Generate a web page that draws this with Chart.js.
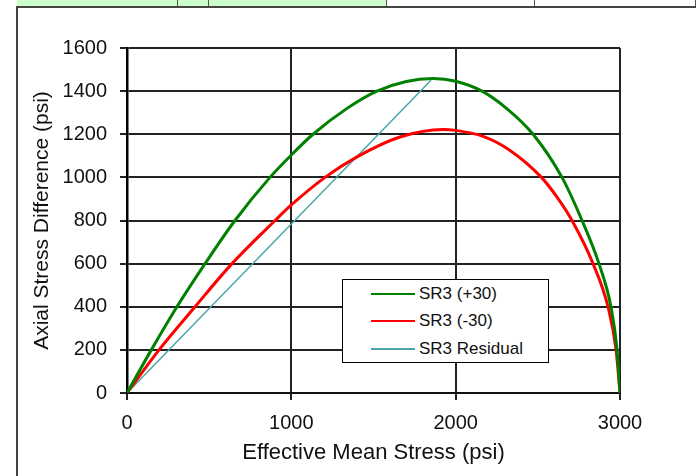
<!DOCTYPE html>
<html>
<head>
<meta charset="utf-8">
<script src="https://cdn.jsdelivr.net/npm/chart.js@4.4.1/dist/chart.umd.min.js"></script>
<style>
    body { margin: 0; background: #fff; }
    #wrap { position: relative; width: 696px; height: 476px; overflow: hidden; font-family: "Liberation Sans", Arial, sans-serif; }
    #strip { position: absolute; left: 0; top: 0; width: 696px; height: 6px; }
    #strip div { position: absolute; top: 0; height: 6px; border-right: 1px solid #555; box-sizing: border-box; }
    .frame-top { position: absolute; left: 16px; top: 6px; width: 680px; height: 2px; background: #444; }
    .frame-left { position: absolute; left: 16px; top: 6px; width: 2px; height: 470px; background: #444; }
    #chart { position: absolute; left: 0; top: 0; }
    #legend { position: absolute; left: 342px; top: 279px; width: 207px; height: 84px; box-sizing: border-box;
              border: 1px solid #000; background: #fff; }
    .leg-row { position: absolute; left: 28px; height: 20px; font-size: 17px; color: #111; line-height: 20px; white-space: nowrap; }
    .leg-row span.swatch { position: absolute; left: 0; top: 9px; width: 44px; height: 2px; }
    .leg-row span.txt { position: absolute; left: 48px; top: 0; }
</style>
</head>
<body>
<div id="wrap">
    <div id="strip"></div>
    <canvas id="chart" width="696" height="476"></canvas>
    <div class="frame-top"></div>
    <div class="frame-left"></div>
    <div id="legend"></div>
</div>
<script>
// SR3 (+30)
const plus30Stress = [0, 148, 304, 475, 657, 870, 1000, 1132, 1339, 1521, 1700, 1862, 2000, 2160, 2313, 2471, 2647, 2769, 2872, 2945, 2982, 3000];
const plus30Diff   = [0, 200, 400, 600, 800, 1000, 1104, 1200, 1320, 1400, 1445, 1458, 1446, 1400, 1318, 1200, 1000, 800, 600, 400, 200, 0];

// SR3 (-30)
const minus30Stress = [0, 195, 414, 639, 901, 1000, 1205, 1400, 1661, 1923, 2000, 2167, 2331, 2522, 2620, 2708, 2836, 2927, 2976, 3000];
const minus30Diff   = [0, 200, 400, 600, 800, 872, 1000, 1095, 1187, 1222, 1218, 1190, 1125, 1000, 905, 800, 600, 400, 200, 0];

// SR3 Residual
const residualStress = [0, 1850];
const residualDiff   = [0, 1450];

const seriesLabels = ['SR3 (+30)', 'SR3 (-30)', 'SR3 Residual'];
const seriesColors = ['#008000', '#ff0000', '#4aa5a8'];

const xTicks = [0, 1000, 2000, 3000];
const yTicks = [0, 200, 400, 600, 800, 1000, 1200, 1400, 1600];

// top strip of spreadsheet cells
const stripCells = [
    { left: 17, width: 161, bg: '#ccffcc' },
    { left: 178, width: 31, bg: '#ccffcc' },
    { left: 209, width: 178, bg: '#ccffcc' },
    { left: 387, width: 148, bg: '#fff' },
    { left: 535, width: 161, bg: '#fff' }
];
const strip = document.getElementById('strip');
stripCells.forEach(c => {
    const d = document.createElement('div');
    d.style.left = c.left + 'px';
    d.style.width = c.width + 'px';
    d.style.background = c.bg;
    strip.appendChild(d);
});

function toPoints(xs, ys) {
    return xs.map((x, i) => ({ x: x, y: ys[i] }));
}

const fontFamily = '"Liberation Sans", Arial, sans-serif';

const ctx = document.getElementById('chart').getContext('2d');
const chart = new Chart(ctx, {
    type: 'scatter',
    data: {
        datasets: [
            { label: seriesLabels[0], data: toPoints(plus30Stress, plus30Diff), borderColor: seriesColors[0], borderWidth: 3, showLine: true, pointRadius: 0, cubicInterpolationMode: 'monotone' },
            { label: seriesLabels[1], data: toPoints(minus30Stress, minus30Diff), borderColor: seriesColors[1], borderWidth: 3, showLine: true, pointRadius: 0, cubicInterpolationMode: 'monotone' },
            { label: seriesLabels[2], data: toPoints(residualStress, residualDiff), borderColor: seriesColors[2], borderWidth: 1.5, showLine: true, pointRadius: 0, tension: 0 }
        ]
    },
    options: {
        responsive: false,
        animation: false,
        layout: { padding: { left: 0, top: 48, right: 76, bottom: 0 } },
        plugins: { legend: { display: false }, tooltip: { enabled: false } },
        scales: {
            x: {
                type: 'linear',
                min: 0,
                max: 3000,
                afterBuildTicks: s => { s.ticks = xTicks.map(v => ({ value: v })); },
                afterFit: s => { s.height = 83; },
                grid: { color: '#222', lineWidth: 2, tickLength: 7 },
                border: { color: '#111', width: 2 },
                ticks: { color: '#111', font: { family: fontFamily, size: 20 }, padding: 11, maxRotation: 0, callback: v => String(v) },
                title: { display: true, text: 'Effective Mean Stress (psi)', color: '#111', font: { family: fontFamily, size: 22 }, padding: { top: 0, bottom: 10 } }
            },
            y: {
                type: 'linear',
                min: 0,
                max: 1600,
                afterBuildTicks: s => { s.ticks = yTicks.map(v => ({ value: v })); },
                afterFit: s => { s.width = 127; },
                grid: { color: '#222', lineWidth: 2, tickLength: 7 },
                border: { color: '#000', width: 2.5 },
                ticks: { color: '#111', font: { family: fontFamily, size: 20 }, padding: 13, callback: v => String(v) },
                title: { display: true, text: 'Axial Stress Difference (psi)', color: '#111', font: { family: fontFamily, size: 21 }, padding: { top: 30, bottom: 0 } }
            }
        }
    }
});

// legend box drawn as html, rows from the dataset labels
const legend = document.getElementById('legend');
const rowTops = [4, 31, 59];
chart.data.datasets.forEach((ds, i) => {
    const row = document.createElement('div');
    row.className = 'leg-row';
    row.style.top = rowTops[i] + 'px';
    const sw = document.createElement('span');
    sw.className = 'swatch';
    sw.style.background = ds.borderColor;
    const txt = document.createElement('span');
    txt.className = 'txt';
    txt.textContent = ds.label;
    row.appendChild(sw);
    row.appendChild(txt);
    legend.appendChild(row);
});
</script>
</body>
</html>
